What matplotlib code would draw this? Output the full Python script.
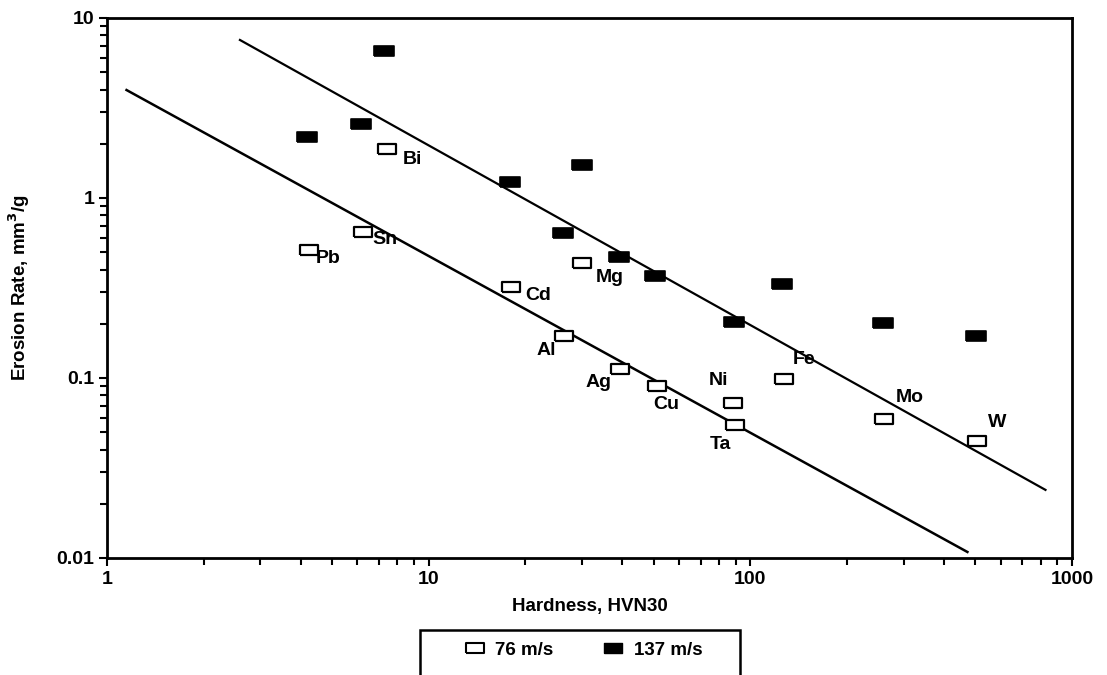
import numpy as np
import matplotlib
matplotlib.use('Agg')
import matplotlib.pyplot as plt
from matplotlib.patches import Rectangle
from matplotlib.lines import Line2D

plt.rcParams['font.family'] = ['Liberation Sans', 'DejaVu Sans']
plt.rcParams['font.weight'] = 'bold'
plt.rcParams['axes.labelweight'] = 'bold'

# 76 m/s (open markers)
metals = ['Pb', 'Sn', 'Bi', 'Cd', 'Mg', 'Al', 'Ag', 'Cu', 'Ni', 'Ta', 'Fe', 'Mo', 'W']
hard_76 = [4.25, 6.26, 7.43, 18.0, 30.0, 26.4, 39.4, 51.1, 88.5, 89.8, 127.6, 261, 508]
rate_76 = [0.514, 0.647, 1.87, 0.320, 0.436, 0.171, 0.112, 0.0903, 0.0726, 0.0548, 0.0987, 0.0592, 0.0447]

# 137 m/s (filled markers)
hard_137 = [4.19, 6.17, 7.27, 17.9, 30.0, 26.2, 39.1, 50.6, 89.2, 125.8, 259, 504]
rate_137 = [2.18, 2.58, 6.56, 1.23, 1.52, 0.639, 0.470, 0.369, 0.205, 0.333, 0.202, 0.171]

# trend lines (end points)
fit_76_x = [1.15, 473]
fit_76_y = [3.98, 0.0108]
fit_137_x = [2.59, 827]
fit_137_y = [7.55, 0.0239]

# label offsets from marker centre, in pixels (right, down)
label_offsets = {
    'Pb': (19, 8), 'Sn': (22, 7), 'Bi': (25, 10), 'Cd': (27, 8),
    'Mg': (28, 15), 'Al': (-18, 14), 'Ag': (-22, 13), 'Cu': (10, 19),
    'Ni': (-15, -23), 'Ta': (-15, 19), 'Fe': (20, -20), 'Mo': (25, -21),
    'W': (20, -18),
}

W, H = 1107, 675
fig = plt.figure(figsize=(W / 100, H / 100), dpi=100)
ax = fig.add_axes([107 / W, 1 - 558 / H, (1072 - 107) / W, (558 - 18) / H])

rect = [(-1, -0.5), (1, -0.5), (1, 0.5), (-1, 0.5), (-1, -0.5)]

ax.plot(fit_76_x, fit_76_y, color='black', lw=1.8)
ax.plot(fit_137_x, fit_137_y, color='black', lw=1.6)

ax.plot(hard_137, rate_137, linestyle='none', marker=rect, markersize=14,
        markerfacecolor='black', markeredgecolor='black', markeredgewidth=1.2)
ax.plot(hard_76, rate_76, linestyle='none', marker=rect, markersize=13.5,
        markerfacecolor='white', markeredgecolor='black', markeredgewidth=1.6)

for m, xv, yv in zip(metals, hard_76, rate_76):
    dx, dy = label_offsets[m]
    ax.annotate(m, (xv, yv), xytext=(dx * 0.72, -dy * 0.72), textcoords='offset points',
                ha='center', va='center', fontsize=14)

ax.set_xscale('log')
ax.set_yscale('log')
ax.set_xlim(1, 1000)
ax.set_ylim(0.01, 10)
ax.set_xticks([1, 10, 100, 1000], labels=['1', '10', '100', '1000'])
ax.set_yticks([0.01, 0.1, 1, 10], labels=['0.01', '0.1', '1', '10'])
ax.tick_params(which='both', direction='out', width=1.5, labelsize=14, pad=3)
ax.tick_params(which='major', length=6)
ax.tick_params(which='minor', length=5)
for s in ax.spines.values():
    s.set_linewidth(2)

ax.set_xlabel('Hardness, HVN30', fontsize=13.5)
ax.set_ylabel(r'Erosion Rate, mm$^\mathbf{3}$/g', fontsize=13.5)
ax.xaxis.set_label_coords(0.5, (558 - 598) / 540)
ax.yaxis.set_label_coords((32 - 107) / 965, 0.5)

# legend box (bottom runs off the page, as in the original)
fig.patches.append(Rectangle((420 / W, 1 - 720 / H), 320 / W, 90 / H,
                             transform=fig.transFigure, fill=False,
                             edgecolor='black', linewidth=1.8))
handles = [
    Line2D([], [], linestyle='none', marker=rect, markersize=13,
           markerfacecolor='white', markeredgecolor='black', markeredgewidth=1.5),
    Line2D([], [], linestyle='none', marker=rect, markersize=13,
           markerfacecolor='black', markeredgecolor='black'),
]
fig.legend(handles, ['76 m/s', '137 m/s'], loc='center', ncol=2,
           bbox_to_anchor=(583 / W, 1 - 650 / H), frameon=False, fontsize=13.5,
           handletextpad=0.5, columnspacing=2.6, handlelength=1.2)

fig.savefig('out.png', dpi=100)
